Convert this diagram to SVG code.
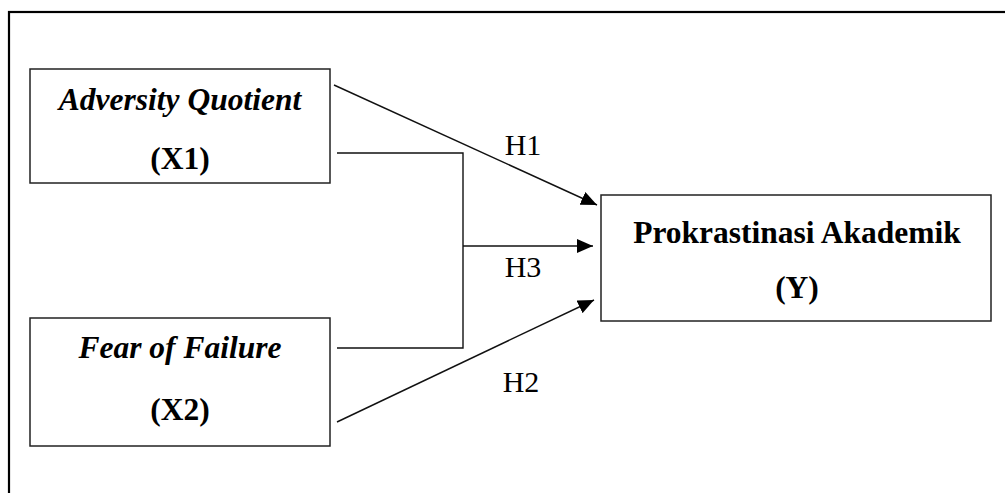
<svg xmlns="http://www.w3.org/2000/svg" width="1005" height="493" viewBox="0 0 1005 493">
<style>
.box{fill:#fff;stroke:#222;stroke-width:1.5}
.t{font-family:"Liberation Serif","Times New Roman",serif;font-size:31.5px;font-weight:bold;text-anchor:middle;fill:#000}
.it{font-style:italic}
.lbl{font-family:"Liberation Serif","Times New Roman",serif;font-size:30px;text-anchor:middle;fill:#000}
.ln{fill:none;stroke:#111;stroke-width:1.4}
</style>
<defs>
<marker id="ah" markerUnits="userSpaceOnUse" markerWidth="18" markerHeight="14" refX="16" refY="7" orient="auto">
<path d="M0,0 L16,7 L0,14 Z" fill="#000"/>
</marker>
</defs>
<rect x="9" y="12" width="1010" height="500" fill="none" stroke="#000" stroke-width="2.2"/>
<g id="x1">
<rect class="box" x="30" y="69" width="300" height="114"/>
<text class="t it" x="180" y="110">Adversity Quotient</text>
<text class="t" x="180" y="169">(X1)</text>
</g>
<g id="x2">
<rect class="box" x="30" y="318" width="300" height="128"/>
<text class="t it" x="180" y="358">Fear of Failure</text>
<text class="t" x="180" y="420">(X2)</text>
</g>
<g id="y">
<rect class="box" x="601" y="195" width="390" height="126"/>
<text class="t" x="797" y="243">Prokrastinasi Akademik</text>
<text class="t" x="797" y="298">(Y)</text>
</g>
<g id="connectors">
<line class="ln" x1="334" y1="85" x2="597" y2="205" marker-end="url(#ah)"/>
<polyline class="ln" points="337,153 463,153 463,348 337,348"/>
<line class="ln" x1="463" y1="246" x2="593" y2="246" marker-end="url(#ah)"/>
<line class="ln" x1="337" y1="422" x2="594" y2="300" marker-end="url(#ah)"/>
<text class="lbl" x="523" y="155">H1</text>
<text class="lbl" x="523" y="277">H3</text>
<text class="lbl" x="521" y="392">H2</text>
</g>
</svg>
